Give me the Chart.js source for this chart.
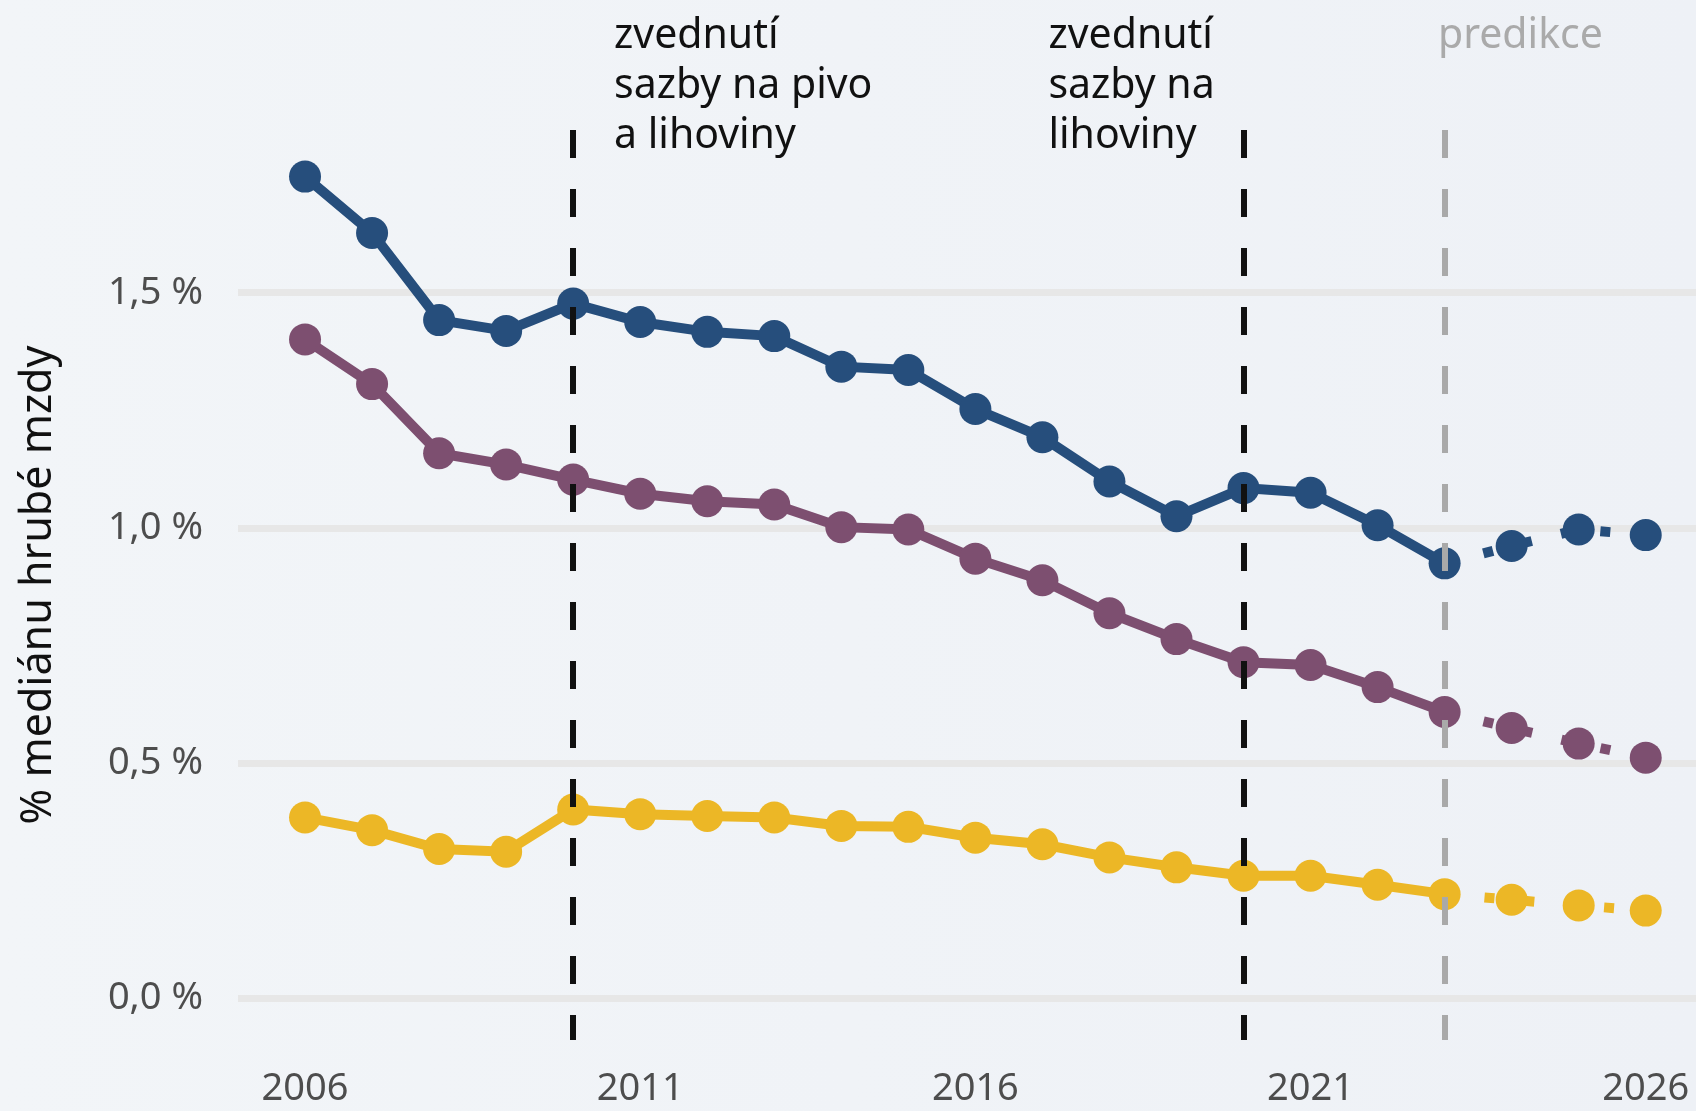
<!DOCTYPE html>
<html lang="cs">
<head>
<meta charset="utf-8">
<script src="https://cdn.jsdelivr.net/npm/chart.js@4/dist/chart.umd.min.js"></script>
<style>
  html, body { margin: 0; padding: 0; }
  body {
    width: 1696px; height: 1111px; overflow: hidden;
    background: linear-gradient(to right, #f2f5f8, #eef1f6);
  }
  canvas { display: block; }
</style>
</head>
<body>
<canvas id="chart" width="1696" height="1111"></canvas>
<script>
"use strict";

// data (čteno z obrázku)
const years = [2006, 2007, 2008, 2009, 2010, 2011, 2012, 2013, 2014, 2015, 2016,
               2017, 2018, 2019, 2020, 2021, 2022, 2023, 2024, 2025, 2026];
const blueVals = [1.747, 1.627, 1.442, 1.419, 1.477, 1.438, 1.417, 1.408, 1.343, 1.336, 1.253,
                  1.193, 1.099, 1.025, 1.085, 1.075, 1.006, 0.925, 0.962, 0.997, 0.985];
const purpleVals = [1.401, 1.306, 1.159, 1.135, 1.103, 1.073, 1.057, 1.050, 1.002, 0.997, 0.935,
                    0.889, 0.819, 0.764, 0.715, 0.709, 0.662, 0.609, 0.575, 0.542, 0.512];
const yellowVals = [0.385, 0.358, 0.318, 0.312, 0.402, 0.392, 0.388, 0.385, 0.367, 0.365, 0.342,
                    0.328, 0.300, 0.279, 0.261, 0.261, 0.242, 0.222, 0.210, 0.198, 0.187];
const xTicks = [2006, 2011, 2016, 2021, 2026];
const yTicks = [0, 0.5, 1.0, 1.5];
const predictionFrom = 2023;

// svislé čáry + popisky
const events = [
  { year: 2010, color: "#111111", lines: ["zvednutí", "sazby na pivo", "a lihoviny"], labelYear: 2010.61 },
  { year: 2020, color: "#111111", lines: ["zvednutí", "sazby na", "lihoviny"], labelYear: 2017.09 },
  { year: 2023, color: "#a9a9a9", lines: ["predikce"], labelYear: 2022.9, labelColor: "#aaaaaa" },
];

const FONT = "'Noto Sans', 'Open Sans', sans-serif";
const colors = { blue: "#264e7c", purple: "#7d4f70", yellow: "#ecb726", grid: "#e7e7e7", tick: "#4d4d4d" };

const predIdx = years.indexOf(predictionFrom);
const toPts = (vals) => years.map((y, i) => ({ x: y, y: vals[i] }));
const series = (vals, color) => ({
  data: toPts(vals),
  borderColor: color,
  backgroundColor: color,
  borderWidth: 10,
  pointRadius: 16,
  pointBorderWidth: 0,
  pointHoverRadius: 16,
  tension: 0,
  clip: false,
  segment: { borderDash: (c) => (c.p0DataIndex >= predIdx ? [10, 30] : undefined) },
});

const eventsPlugin = {
  id: "events",
  afterDatasetsDraw(chart) {
    const { ctx, chartArea, scales } = chart;
    ctx.save();
    ctx.lineWidth = 6;
    ctx.setLineDash([28, 31]);
    for (const e of events) {
      const x = Math.round(scales.x.getPixelForValue(e.year));
      ctx.strokeStyle = e.color;
      ctx.beginPath();
      ctx.moveTo(x, chartArea.top);
      ctx.lineTo(x, chartArea.bottom);
      ctx.stroke();
    }
    ctx.setLineDash([]);
    ctx.font = "41px " + FONT;
    ctx.textBaseline = "alphabetic";
    ctx.textAlign = "left";
    for (const e of events) {
      const x = scales.x.getPixelForValue(e.labelYear);
      ctx.fillStyle = e.labelColor || "#111111";
      e.lines.forEach((t, i) => ctx.fillText(t, x, 48 + i * 50));
    }
    ctx.restore();
  },
};

Chart.defaults.font.family = FONT;

new Chart(document.getElementById("chart"), {
  type: "line",
  data: {
    datasets: [
      series(blueVals, colors.blue),
      series(purpleVals, colors.purple),
      series(yellowVals, colors.yellow),
    ],
  },
  options: {
    responsive: false,
    animation: false,
    devicePixelRatio: 1,
    events: [],
    layout: { autoPadding: false, padding: { top: 130, right: 0, left: 0, bottom: 0 } },
    plugins: { legend: { display: false }, tooltip: { enabled: false } },
    scales: {
      x: {
        type: "linear",
        min: 2005,
        max: 2026.75,
        afterBuildTicks: (s) => { s.ticks = xTicks.map((v) => ({ value: v })); },
        afterFit: (s) => { s.height = 71; s.paddingLeft = 0; s.paddingRight = 0; },
        grid: { display: false, drawTicks: false },
        border: { display: false },
        ticks: {
          padding: 26,
          color: colors.tick,
          font: { size: 38 },
          maxRotation: 0,
          autoSkip: false,
          callback: (v) => String(v),
        },
      },
      y: {
        min: -0.088,
        max: 1.846,
        afterBuildTicks: (s) => { s.ticks = yTicks.map((v) => ({ value: v })); },
        afterFit: (s) => { s.width = 238; s.paddingTop = 0; s.paddingBottom = 0; },
        grid: { color: colors.grid, lineWidth: 7, drawTicks: false },
        border: { display: false },
        title: {
          display: true,
          text: "% mediánu hrubé mzdy",
          color: "#111111",
          font: { size: 43 },
          padding: { top: 13, bottom: 0 },
        },
        ticks: {
          padding: 35,
          color: colors.tick,
          font: { size: 38 },
          callback: (v) => v.toFixed(1).replace(".", ",") + " %",
        },
      },
    },
  },
  plugins: [eventsPlugin],
});
</script>
</body>
</html>
